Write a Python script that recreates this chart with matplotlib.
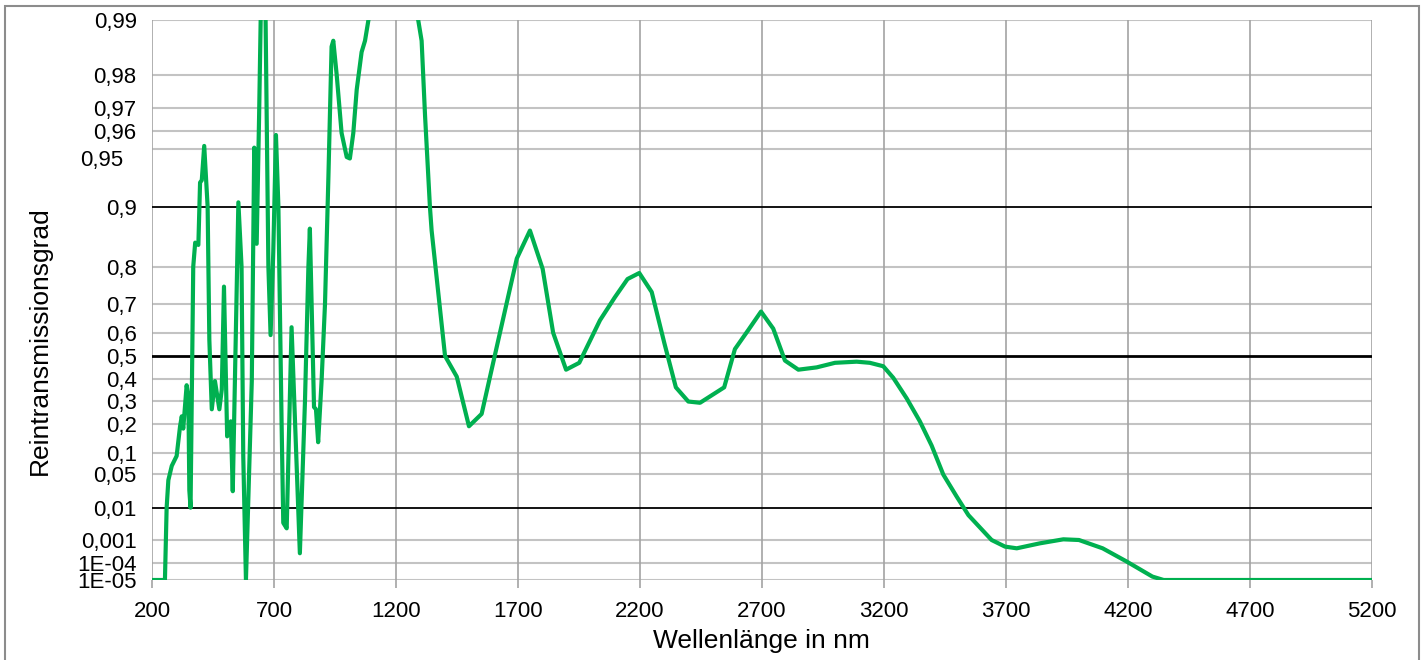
import numpy as np
import matplotlib
matplotlib.use("Agg")
import matplotlib.pyplot as plt
from matplotlib.patches import Rectangle

plt.rcParams['font.family'] = ['Liberation Sans', 'DejaVu Sans']

# Messdaten: Wellenlänge (nm) und Reintransmissionsgrad
wellenlaenge = [200, 253, 260, 267, 281, 294, 301, 315, 322, 328, 342, 349, 353, 358,
                369, 377, 390, 397, 404, 414, 428, 435, 445, 458, 476, 486, 495,
                508, 523, 531, 554, 567, 574, 585, 609, 619, 629, 639, 649, 663,
                677, 686, 697, 708, 718, 731, 738, 752, 772, 786, 806, 827, 841,
                847, 858, 864, 872, 881, 895, 909, 923, 936, 943, 957, 977, 998,
                1011, 1025, 1039, 1059, 1073, 1087, 1134, 1237, 1291, 1305, 1319,
                1339, 1346, 1401, 1449, 1499, 1551, 1613, 1695, 1749, 1801, 1844,
                1897, 1951, 2036, 2097, 2149, 2197, 2248, 2300, 2347, 2398, 2446,
                2545, 2589, 2644, 2696, 2746, 2794, 2849, 2924, 2999, 3088, 3142,
                3197, 3238, 3293, 3347, 3395, 3443, 3498, 3546, 3641, 3696, 3744,
                3839, 3935, 3999, 4096, 4194, 4300, 4346, 5200]
transmission = [1e-5, 1e-5, 0.01, 0.037, 0.065, 0.08, 0.09, 0.19, 0.23, 0.18, 0.37, 0.32, 0.023, 0.01,
                0.8, 0.847, 0.843, 0.925, 0.927, 0.952, 0.9, 0.57, 0.26, 0.39, 0.26, 0.35, 0.75,
                0.15, 0.21, 0.022, 0.905, 0.8, 0.09, 1e-5, 0.39, 0.951, 0.845, 0.967, 0.995, 0.995,
                0.8, 0.59, 0.83, 0.958, 0.9, 0.21, 0.0034, 0.0023, 0.62, 0.21, 0.00027, 0.3, 0.8,
                0.87, 0.55, 0.27, 0.26, 0.13, 0.39, 0.7, 0.93, 0.986, 0.987, 0.98, 0.959, 0.945,
                0.944, 0.959, 0.976, 0.985, 0.987, 0.99, 0.998, 0.998, 0.99, 0.987, 0.967,
                0.9, 0.867, 0.5, 0.41, 0.19, 0.24, 0.54, 0.817, 0.867, 0.795, 0.6,
                0.44, 0.47, 0.645, 0.72, 0.77, 0.785, 0.735, 0.555, 0.36, 0.296, 0.29,
                0.36, 0.53, 0.61, 0.675, 0.615, 0.48, 0.44, 0.45, 0.47, 0.475, 0.47,
                0.455, 0.405, 0.31, 0.21, 0.12, 0.048, 0.017, 0.0059, 0.001, 0.00052, 0.00044,
                0.00072, 0.00105, 0.001, 0.00044, 0.00012, 1.6e-5, 1e-5, 1e-5]

y_werte = [0.99, 0.98, 0.97, 0.96, 0.95, 0.9, 0.8, 0.7, 0.6, 0.5, 0.4, 0.3, 0.2,
           0.1, 0.05, 0.01, 0.001, 1e-4, 1e-5]
y_labels = ['0,99', '0,98', '0,97', '0,96', '0,95', '0,9', '0,8', '0,7', '0,6', '0,5',
            '0,4', '0,3', '0,2', '0,1', '0,05', '0,01', '0,001', '1E-04', '1E-05']
x_ticks = [200, 700, 1200, 1700, 2200, 2700, 3200, 3700, 4200, 4700, 5200]

# Achsenskala (wie im Original, nicht linear): Lage der Teilstriche in Pixel von unten
y_lage = [560, 505, 472.3, 449, 430.7, 373.3, 313.3, 276, 247.3, 224, 201, 179.3, 156,
          127.3, 106.3, 72.3, 40, 16.7, 0]


def logit(v):
    v = np.clip(np.asarray(v, dtype=float), 1e-12, 1 - 1e-12)
    return np.log(v / (1 - v))


L = logit(y_werte)[::-1]
P = np.array(y_lage, dtype=float)[::-1]
# linear verlängern über die Enden
s0 = (P[1] - P[0]) / (L[1] - L[0])
s1 = (P[-1] - P[-2]) / (L[-1] - L[-2])
L_ext = np.concatenate([[L[0] - 30], L, [L[-1] + 30]])
P_ext = np.concatenate([[P[0] - 30 * s0], P, [P[-1] + 30 * s1]])


def forward(v):
    return np.interp(logit(v), L_ext, P_ext)


def inverse(p):
    l = np.interp(p, P_ext, L_ext)
    return 1 / (1 + np.exp(-l))


fig = plt.figure(figsize=(14.24, 6.6), dpi=100)
ax = fig.add_axes([152 / 1424, 1 - 580 / 660, 1220 / 1424, 560 / 660])
ax.set_yscale('function', functions=(forward, inverse))
ax.set_xlim(200, 5200)
ax.set_ylim(1e-5, 0.99)

# Gitterlinien
for v in y_werte:
    if v == 0.5:
        ax.axhline(v, color='black', lw=2.0, zorder=2)
    elif v in (0.9, 0.01):
        ax.axhline(v, color='black', lw=1.3, zorder=2)
    else:
        ax.axhline(v, color='#c3c3c3', lw=1.5, zorder=1)
for xt in x_ticks:
    ax.axvline(xt, color='#a3a3a3', lw=1.2, zorder=1)

ax.plot(wellenlaenge, transmission, color='#00B050', lw=3, zorder=3,
        solid_joinstyle='round')

ax.set_yticks(y_werte)
ax.set_yticklabels(['' if l == '0,95' else l for l in y_labels])
ax.minorticks_off()
ax.set_xticks(x_ticks)
ax.set_xticklabels([str(x) for x in x_ticks])
ax.tick_params(axis='y', length=0, pad=11, labelsize=16)
ax.tick_params(axis='x', length=6, color='#a3a3a3', width=1.2, pad=9, labelsize=16)
# 0,95 sitzt im Original etwas versetzt
ax.annotate('0,95', xy=(0, 0.95), xycoords=ax.get_yaxis_transform(),
            xytext=(-29, -11), textcoords='offset pixels', ha='right', va='center',
            fontsize=16)

for sp in ax.spines.values():
    sp.set_visible(False)

fig.text(761 / 1424, 1 - 641 / 660, 'Wellenlänge in nm', ha='center', va='center', fontsize=19)
fig.text(40 / 1424, 1 - 341 / 660, 'Reintransmissionsgrad', ha='center', va='center',
         rotation=90, fontsize=19)

fig.patches.append(Rectangle((5 / 1424, -0.05), 1414 / 1424, 1.05 - 6 / 660,
                             transform=fig.transFigure, fill=False, edgecolor='#8c8c8c', lw=1.5))

fig.savefig('out.png', dpi=100)
